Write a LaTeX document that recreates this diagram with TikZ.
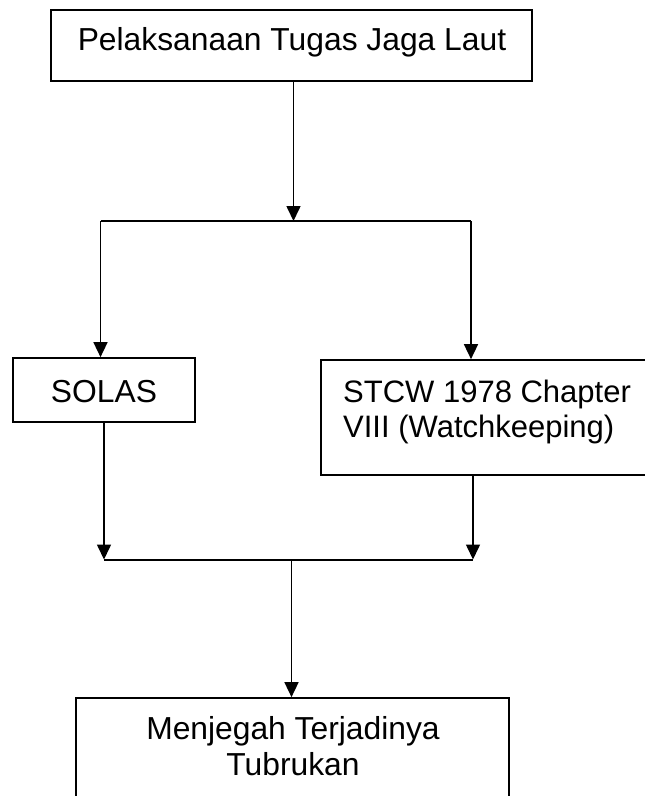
\documentclass[tikz,border=0pt]{standalone}
\usepackage{fontspec}
\setmainfont{Liberation Sans}
\usetikzlibrary{arrows.meta}
\tikzset{
  box/.style={draw=black, line width=1.7pt, rectangle, inner sep=0pt, fill=white},
  lbl/.style={inner sep=0pt, font=\fontsize{31.8}{35}\selectfont},
  conn/.style={draw=black, line width=1.6pt},
  arr/.style={conn, -{Triangle[length=15pt,width=14pt]}},
  bar/.style={draw=black, line width=2pt}
}
\begin{document}
\begin{tikzpicture}[x=1pt,y=-1pt]
\fill[white] (0,0) rectangle (645,796);
\useasboundingbox (0,0) rectangle (645,796);
\clip (0,0) rectangle (645,796);
% boxes
\node[box, minimum width=481pt, minimum height=71pt] (top) at (291.5,45.5) {};
\node[box, minimum width=182pt, minimum height=64pt] (solas) at (104,390) {};
\node[box, minimum width=360pt, minimum height=115pt] (stcw) at (501,417.5) {};
\node[box, minimum width=433pt, minimum height=130pt] (bottom) at (292.5,763) {};
% texts
\node[lbl, anchor=base] (ttop) at (292,50) {Pelaksanaan Tugas Jaga Laut};
\node[lbl, anchor=base] (tsolas) at (104,402) {SOLAS};
\node[lbl, anchor=base west, font=\fontsize{31}{35}\selectfont] (tstcw1) at (343,402) {STCW 1978 Chapter};
\node[lbl, anchor=base west, font=\fontsize{31}{35}\selectfont] (tstcw2) at (343,437) {VIII (Watchkeeping)};
\node[lbl, anchor=base] (tbot1) at (293,739) {Menjegah Terjadinya};
\node[lbl, anchor=base] (tbot2) at (293,775) {Tubrukan};
% junction coordinates
\coordinate (j1) at (293.5,221);
\coordinate (bL) at (100.5,221);
\coordinate (bR) at (471,221);
\coordinate (cL) at (104,559.5);
\coordinate (cR) at (473,559.5);
\coordinate (j2) at (291.5,559.5);
% connectors
\draw[arr] (top.south -| j1) -- (j1);
\draw[bar] (bL) -- (bR);
\draw[arr] (bL) -- (bL |- solas.north);
\draw[arr] (bR) -- (bR |- stcw.north);
\draw[arr] (solas.south -| cL) -- (cL);
\draw[arr] (stcw.south -| cR) -- (cR);
\draw[bar] (cL) -- (cR);
\draw[arr] (j2) -- (j2 |- bottom.north);
\end{tikzpicture}
\end{document}
